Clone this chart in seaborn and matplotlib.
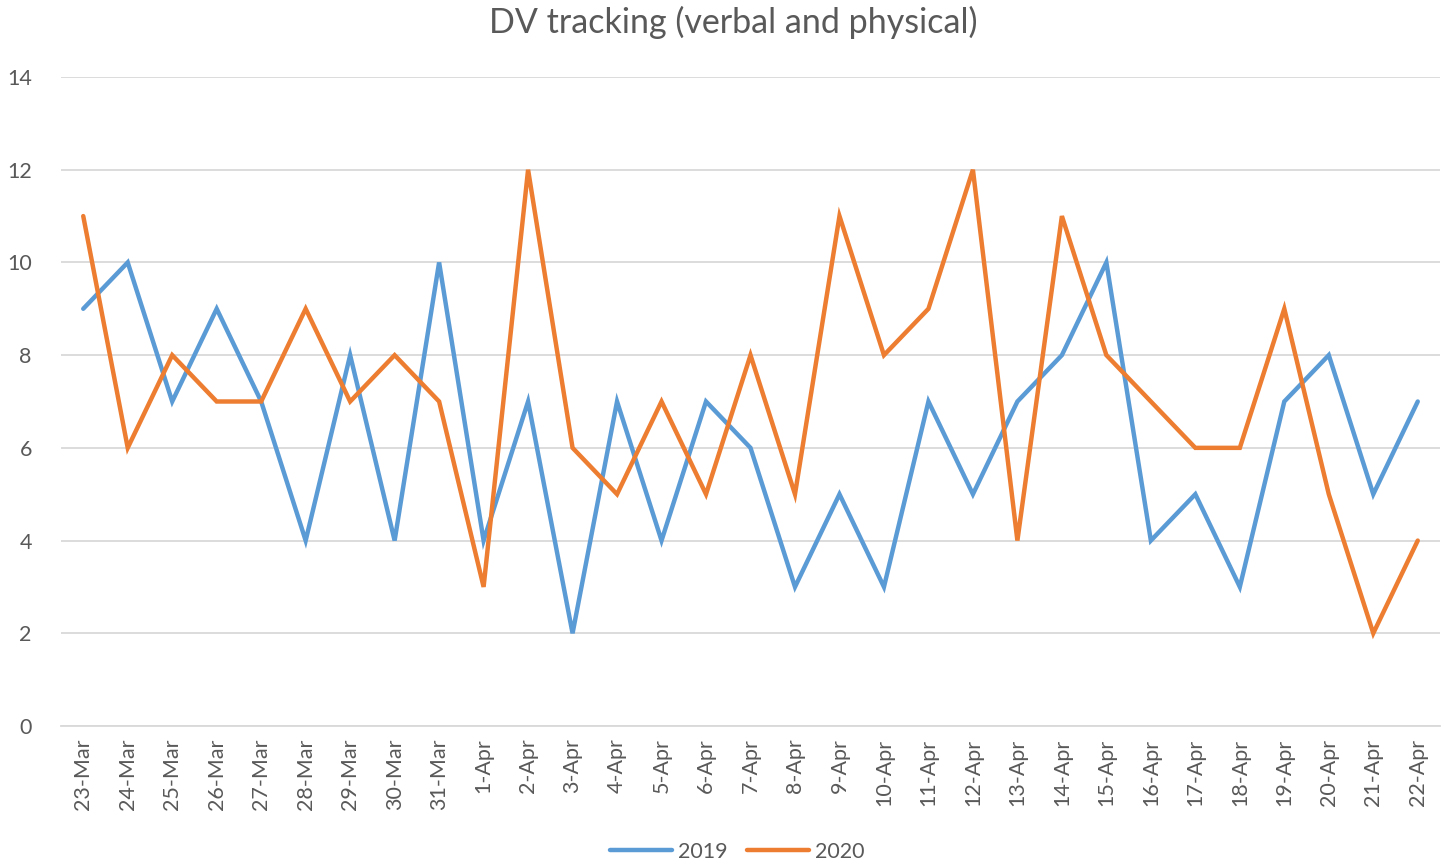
import matplotlib
matplotlib.use("Agg")
import matplotlib.pyplot as plt
import seaborn as sns
import pandas as pd

dates = ["23-Mar", "24-Mar", "25-Mar", "26-Mar", "27-Mar", "28-Mar", "29-Mar", "30-Mar", "31-Mar",
         "1-Apr", "2-Apr", "3-Apr", "4-Apr", "5-Apr", "6-Apr", "7-Apr", "8-Apr", "9-Apr", "10-Apr",
         "11-Apr", "12-Apr", "13-Apr", "14-Apr", "15-Apr", "16-Apr", "17-Apr", "18-Apr", "19-Apr",
         "20-Apr", "21-Apr", "22-Apr"]
values_2019 = [9, 10, 7, 9, 7, 4, 8, 4, 10, 4, 7, 2, 7, 4, 7, 6, 3, 5, 3, 7, 5, 7, 8, 10, 4, 5, 3, 7, 8, 5, 7]
values_2020 = [11, 6, 8, 7, 7, 9, 7, 8, 7, 3, 12, 6, 5, 7, 5, 8, 5, 11, 8, 9, 12, 4, 11, 8, 7, 6, 6, 9, 5, 2, 4]
series = ["2019", "2020"]
colors = ["#5B9BD5", "#ED7D31"]

sns.set_theme(style="white")
plt.rcParams["font.family"] = ["Lato", "DejaVu Sans"]
text_color = "#595959"

df = pd.DataFrame({
    "idx": list(range(len(dates))) * 2,
    "value": values_2019 + values_2020,
    "year": [series[0]] * len(dates) + [series[1]] * len(dates),
})

fig = plt.figure(figsize=(14.45, 8.65), dpi=100)
ax = fig.add_axes([61 / 1445, 1 - 726 / 865, (1440 - 61) / 1445, (726 - 77) / 865])

sns.lineplot(data=df, x="idx", y="value", hue="year", palette=colors, linewidth=3.2,
             ax=ax, legend=False, solid_capstyle="round", solid_joinstyle="miter")

ax.set_xlim(-0.5, len(dates) - 0.5)
ax.set_ylim(0, 14)
ax.set_yticks(range(0, 15, 2))
ax.set_xticks(range(len(dates)))
ax.set_xticklabels(dates, rotation=90)
ax.tick_params(axis="both", colors=text_color, labelsize=15.5, length=0)
ax.tick_params(axis="y", pad=21)
ax.tick_params(axis="x", pad=9)
for lbl in ax.get_xticklabels() + ax.get_yticklabels():
    lbl.set_color(text_color)
ax.yaxis.grid(True, color="#D9D9D9", linewidth=1.3)
ax.xaxis.grid(False)
for s in ["top", "right", "left"]:
    ax.spines[s].set_visible(False)
ax.spines["bottom"].set_color("#D9D9D9")
ax.spines["bottom"].set_linewidth(1.3)
ax.set_xlabel("")
ax.set_ylabel("")

fig.text(733 / 1445, 1 - 22 / 865, "DV tracking (verbal and physical)", ha="center", va="center",
         fontsize=24.5, color=text_color)

from matplotlib.lines import Line2D
handles = [Line2D([0], [0], color=c, linewidth=3.2, solid_capstyle="round") for c in colors]
fig.legend(handles, series, loc="center", bbox_to_anchor=(737 / 1445, 1 - 852 / 865), ncol=2,
           frameon=False, fontsize=15.5, labelcolor=text_color, handlelength=2.9,
           handletextpad=0.25, columnspacing=0.9)

fig.savefig("out.png", dpi=100)
